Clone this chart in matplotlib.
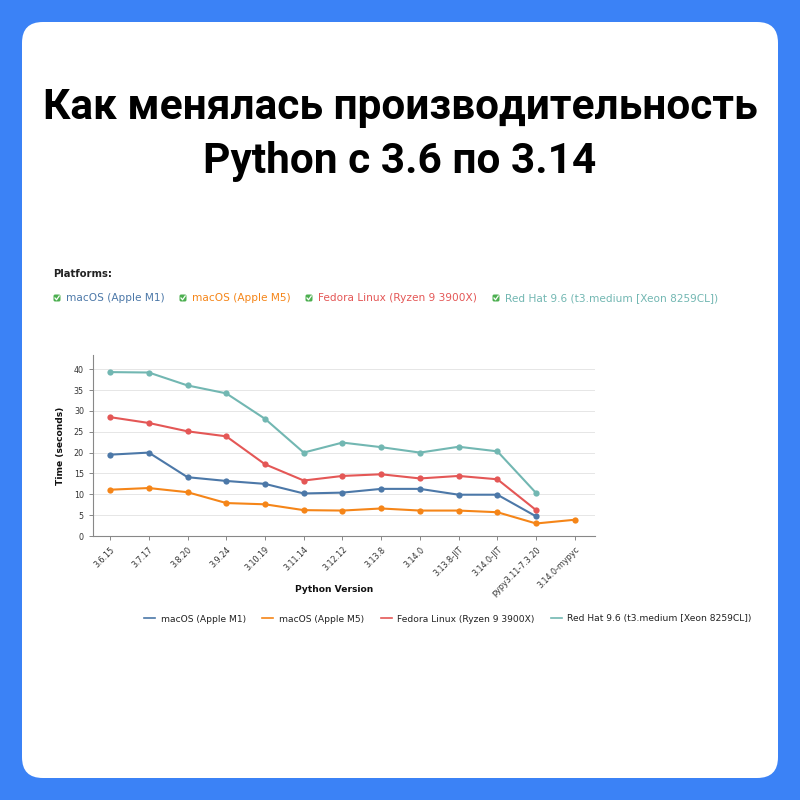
import matplotlib
matplotlib.use("Agg")
import matplotlib.pyplot as plt
from matplotlib.patches import FancyBboxPatch
from matplotlib.lines import Line2D

# ── Data ─────────────────────────────────────────────────────────────────────
versions = ["3.6.15", "3.7.17", "3.8.20", "3.9.24", "3.10.19", "3.11.14",
            "3.12.12", "3.13.8", "3.14.0", "3.13.8-JIT", "3.14.0-JIT",
            "pypy3.11-7.3.20", "3.14.0-mypyc"]

mac_m1 = [19.5, 20.0, 14.1, 13.2, 12.5, 10.2, 10.4, 11.3, 11.3, 9.9, 9.9, 4.7, None]
mac_m5 = [11.1, 11.5, 10.5, 7.9, 7.6, 6.2, 6.1, 6.6, 6.1, 6.1, 5.7, 3.0, 3.9]
fedora = [28.5, 27.1, 25.1, 23.9, 17.2, 13.3, 14.4, 14.8, 13.8, 14.4, 13.6, 6.2, None]
redhat = [39.3, 39.2, 36.1, 34.2, 28.1, 20.0, 22.4, 21.3, 20.0, 21.4, 20.3, 10.3, None]

platforms = ["macOS (Apple M1)", "macOS (Apple M5)",
             "Fedora Linux (Ryzen 9 3900X)", "Red Hat 9.6 (t3.medium [Xeon 8259CL])"]
series = [mac_m1, mac_m5, fedora, redhat]
colors = ["#4c78a8", "#f58518", "#e45756", "#72b7b2"]

BLUE_BG = "#3b82f6"
TEXT = "#111111"

# ── Figure & card ────────────────────────────────────────────────────────────
fig = plt.figure(figsize=(8, 8), dpi=100, facecolor=BLUE_BG)
card = FancyBboxPatch((22 / 800, 22 / 800), 756 / 800, 756 / 800,
                      boxstyle="round,pad=0,rounding_size=0.026",
                      transform=fig.transFigure, facecolor="white",
                      edgecolor="none", zorder=-5)
fig.patches.append(card)

fig.text(0.5, 1 - 107 / 800, "Как менялась производительность",
         ha="center", va="center", fontsize=30.5, fontweight="bold",
         family="Roboto", color="black")
fig.text(0.5, 1 - 162 / 800, "Python с 3.6 по 3.14",
         ha="center", va="center", fontsize=30.5, fontweight="bold",
         family="Roboto", color="black")

# ── Checkbox legend ──────────────────────────────────────────────────────────
fig.text(53 / 800, 1 - 274 / 800, "Platforms:", ha="left", va="center",
         fontsize=7.2, fontweight="bold", color="#222222")
box_x = [57, 183, 309, 496]
for bx, name, c in zip(box_x, platforms, colors):
    fig.patches.append(FancyBboxPatch(((bx - 3.5) / 800, 1 - 301.5 / 800), 7 / 800, 7 / 800,
                                      boxstyle="round,pad=0,rounding_size=0.002",
                                      transform=fig.transFigure, facecolor="#4caf50",
                                      edgecolor="none"))
    fig.lines.append(Line2D([(bx - 2) / 800, (bx - 0.5) / 800, (bx + 2.2) / 800],
                            [1 - 298 / 800, 1 - 299.8 / 800, 1 - 296 / 800],
                            transform=fig.transFigure, color="white", lw=0.9))
    fig.text((bx + 9) / 800, 1 - 298 / 800, name, ha="left", va="center",
             fontsize=7.6, color=c)

# ── Main chart ───────────────────────────────────────────────────────────────
ax = fig.add_axes([93 / 800, 1 - 536 / 800, 502 / 800, 181 / 800])
ax.set_facecolor("white")
x = list(range(len(versions)))
for vals, c, name in zip(series, colors, platforms):
    xs = [i for i, v in zip(x, vals) if v is not None]
    ys = [v for v in vals if v is not None]
    ax.plot(xs, ys, color=c, lw=1.5, marker="o", markersize=4.5,
            markeredgewidth=0, label=name, zorder=3)

ax.set_xlim(-0.44, 12.52)
ax.set_ylim(0, 43.4)
ax.set_yticks(range(0, 41, 5))
ax.set_xticks(x)
ax.set_xticklabels(versions, rotation=45, ha="right", rotation_mode="anchor",
                   fontsize=5.8, color="#333333")
ax.tick_params(axis="y", labelsize=5.8, labelcolor="#333333", length=3,
               color="#888888", width=0.7)
ax.tick_params(axis="x", length=3, color="#888888", width=0.7)
ax.grid(axis="y", color="#e6e6e6", lw=0.7)
ax.set_axisbelow(True)
for s in ["top", "right"]:
    ax.spines[s].set_visible(False)
for s in ["left", "bottom"]:
    ax.spines[s].set_color("#888888")
    ax.spines[s].set_linewidth(0.8)
ax.set_ylabel("Time (seconds)", fontsize=6.6, fontweight="bold", color=TEXT, labelpad=6)
ax.set_xlabel("Python Version", fontsize=6.6, fontweight="bold", color=TEXT)
ax.xaxis.set_label_coords(0.48, -0.27)

handles = [Line2D([0], [0], color=c, lw=1.2) for c in colors]
fig.legend(handles, platforms, loc="center", bbox_to_anchor=(448 / 800, 1 - 619 / 800),
           ncol=4, frameon=False, fontsize=6.6, handlelength=1.2,
           handletextpad=0.6, columnspacing=1.8, labelcolor="#222222")

fig.savefig("out.png", dpi=100, facecolor=BLUE_BG)
